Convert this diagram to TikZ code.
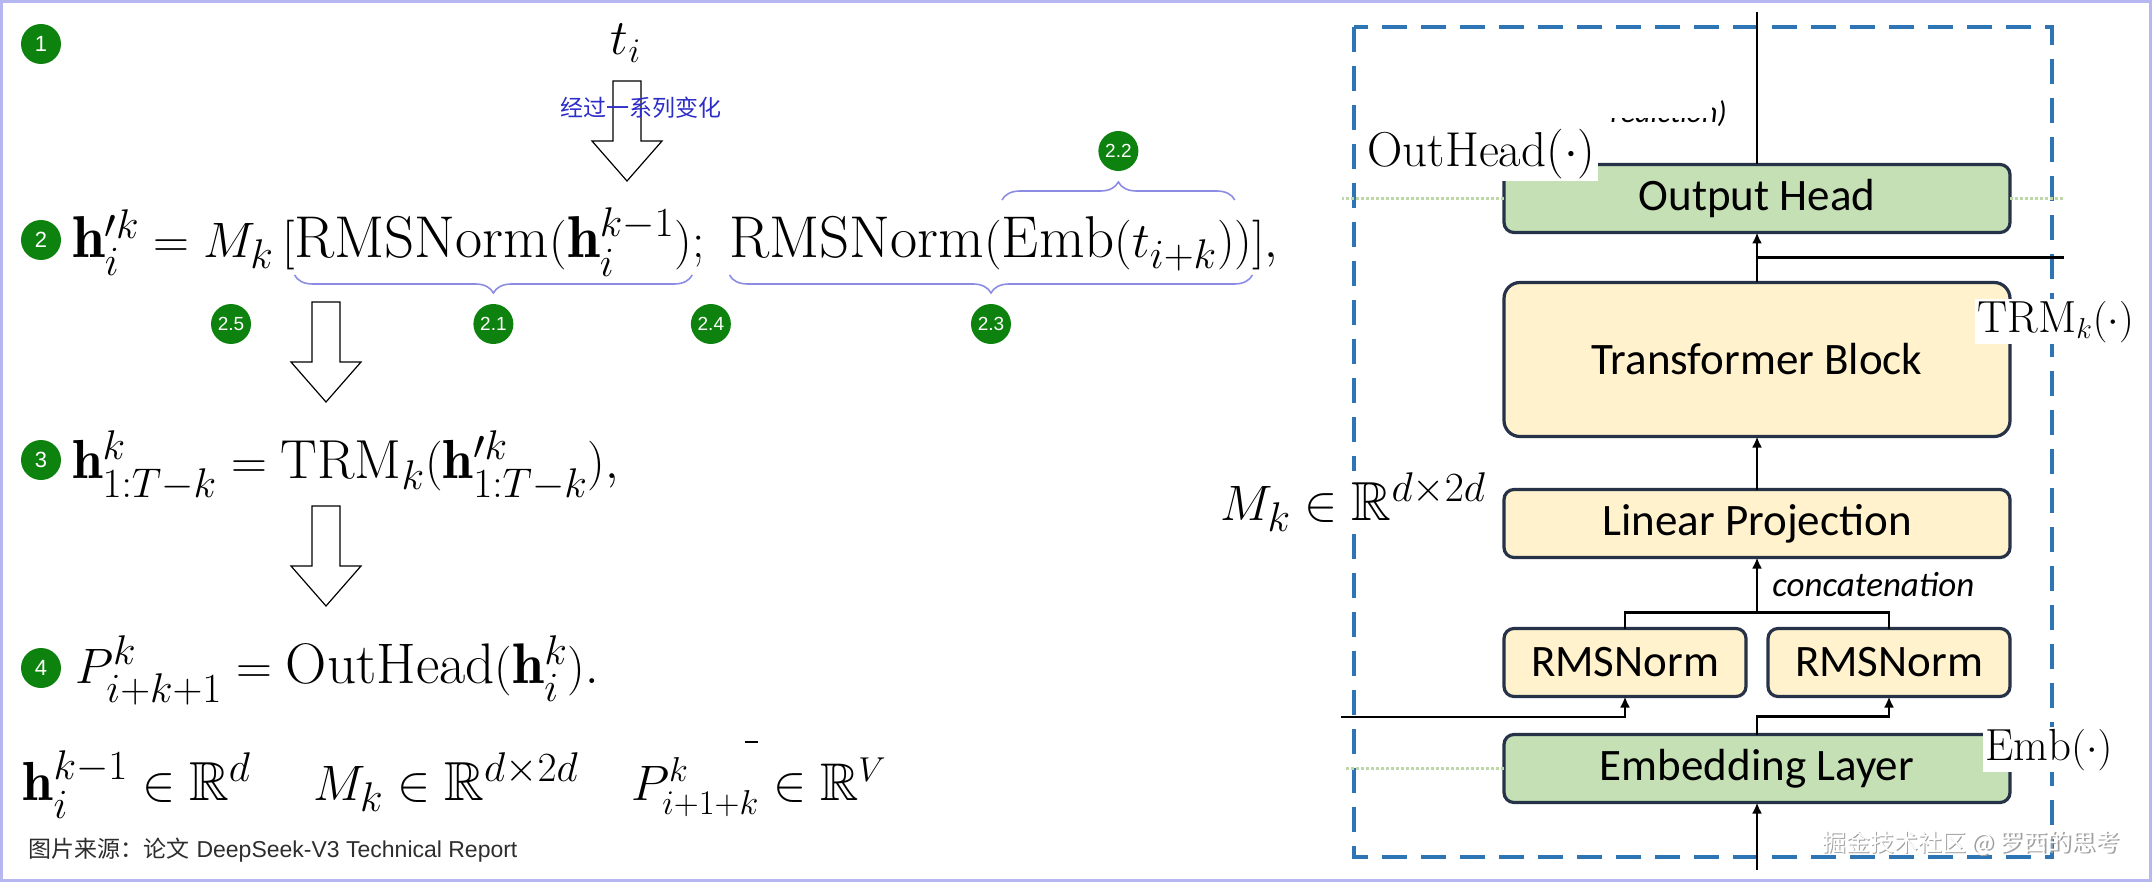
\documentclass[tikz,border=0pt]{standalone}
\usepackage{amsmath,amssymb}
\usepackage{fontspec}
\setsansfont{Liberation Sans}
\newfontfamily\cjk{Noto Sans CJK SC}
\newfontfamily\calibri{Carlito}
\usepackage{tikz}
\usetikzlibrary{arrows.meta,positioning,calc,decorations.pathreplacing}

\definecolor{framecol}{RGB}{182,182,240}
\definecolor{badgegreen}{RGB}{14,130,14}
\definecolor{bracecol}{RGB}{140,140,228}
\definecolor{noteblue}{RGB}{44,44,200}
\definecolor{dashblue}{RGB}{46,117,182}
\definecolor{boxgreen}{RGB}{197,224,180}
\definecolor{boxyellow}{RGB}{255,242,204}
\definecolor{boxedge}{RGB}{38,50,72}
\definecolor{dotgreen}{RGB}{190,215,168}
\definecolor{capgray}{RGB}{45,45,45}

\newcommand{\eqsize}{\fontsize{27.5}{33}\selectfont}
\newcommand{\eqbig}{\fontsize{29.5}{35}\selectfont}
\newcommand{\lblsize}{\fontsize{22.5}{27}\selectfont}
% hollow block arrow: centre x, top y
\newcommand{\hollowdown}[2]{\draw[hollow] (#1,#2) ++(-14,0) -- ++(28,0) -- ++(0,60) -- ++(21,0) -- ++(-35,40) -- ++(-35,-40) -- ++(21,0) -- cycle;}

\begin{document}
\begin{tikzpicture}[x=0.5pt,y=-0.5pt,
  eq/.style={inner sep=0pt,outer sep=0pt,font=\eqsize},
  eqtwo/.style={eq,font=\eqbig,anchor=base west},
  lbl/.style={fill=white,inner sep=1pt,font=\lblsize},
  badge/.style={circle,fill=badgegreen,text=white,minimum size=20pt,inner sep=0pt,font=\sffamily\fontsize{11}{11}\selectfont},
  subbadge/.style={badge,font=\sffamily\fontsize{9.5}{9.5}\selectfont},
  brc/.style={draw=bracecol,line width=0.8pt,decorate,decoration={brace,amplitude=9pt}},
  hollow/.style={draw=black,line width=0.6pt,fill=white},
  blk/.style={draw=boxedge,line width=1.6pt,rounded corners=5pt,outer sep=0pt,minimum width=253pt,minimum height=34pt,font=\calibri\fontsize{22.5}{27}\selectfont},
  gbox/.style={blk,fill=boxgreen},
  ybox/.style={blk,fill=boxyellow},
  half/.style={minimum width=121pt},
  wire/.style={line width=1.35pt},
  arr/.style={wire,-{Latex[length=5.5pt,width=5pt]}},
  guide/.style={draw=dotgreen,line width=1.5pt,dash pattern=on 1.5pt off 1pt},
  dashbox/.style={draw=dashblue,line width=2pt,dash pattern=on 12.5pt off 7pt}]
\useasboundingbox (0,0) rectangle (2152,882);
\draw[framecol,line width=1.5pt] (1.5,1.5) rectangle (2150.5,880.5);

% left: steps
\node[badge] (s1) at (41,44) {1};
\node[badge] (s2) at (41,240) {2};
\node[badge] (s3) at (41,460) {3};
\node[badge] (s4) at (41,668) {4};

\node[eq,font=\fontsize{27}{32}\selectfont,anchor=base] (ti) at (626,55) {$t_i$};
\hollowdown{627}{81}
\node[text=noteblue,font=\cjk\fontsize{11.5}{13}\selectfont] (note) at (641,108) {经过一系列变化};

\node[eqtwo] (e2a) at (72,257) {$\mathbf{h}_i^{\prime k} = M_k\,[$};
\node[eqtwo] (e2b) at (e2a.base east) {$\mathrm{RMSNorm}(\mathbf{h}_i^{k-1})$};
\node[eqtwo] (e2c) at (e2b.base east) {$;\mkern9mu$};
\node[eqtwo] (e2d) at (e2c.base east) {$\mathrm{RMSNorm}($};
\node[eqtwo] (e2e) at (e2d.base east) {$\mathrm{Emb}(t_{i+k})$};
\node[eqtwo] (e2f) at (e2e.base east) {$)$};
\node[eqtwo] (e2g) at (e2f.base east) {$],$};

\draw[brc] ([yshift=28.5pt]e2e.base west) -- ([yshift=28.5pt]e2e.base east);
\draw[brc] ([yshift=-9pt]e2b.base east) -- ([yshift=-9pt]e2b.base west);
\draw[brc] ([yshift=-9pt]e2f.base east) -- ([yshift=-9pt]e2d.base west);
\path (e2d.base west) -- (e2f.base east) coordinate[midway] (m23);
\node[subbadge] (b22) at ([yshift=53pt]e2e.base) {2.2};
\node[subbadge] (b25) at (231,324) {2.5};
\node[subbadge] (b21) at ([yshift=-33.5pt]e2b.base) {2.1};
\node[subbadge] (b24) at ([yshift=-33.5pt]e2c.base) {2.4};
\node[subbadge] (b23) at ([yshift=-33.5pt]m23) {2.3};

\hollowdown{326}{302}
\node[eq,anchor=base west] (e3) at (72,478) {$\mathbf{h}^k_{1:T-k} = \mathrm{TRM}_k(\mathbf{h}^{\prime k}_{1:T-k}),$};
\hollowdown{326}{506}
\node[eq,font=\fontsize{28.6}{34}\selectfont,anchor=base west] (e4) at (75,683) {$P^k_{i+k+1} = \mathrm{OutHead}(\mathbf{h}^k_i).$};

\node[eq,anchor=base west] (dimh) at (23,800) {$\mathbf{h}_i^{k-1} \in \mathbb{R}^d$};
\node[eq,anchor=base west] (dimm) at (313,800) {$M_k \in \mathbb{R}^{d\times 2d}$};
\node[eq,font=\fontsize{26.5}{32}\selectfont,anchor=base west] (dimp) at (631,800) {$P^k_{i+1+k} \in \mathbb{R}^V$};
\draw[line width=0.9pt] (745,742) -- (758,742);

\node[anchor=base west,text=capgray,font=\fontsize{11.5}{13}\selectfont] (src) at (21,857) {{\cjk 图片来源：论文} {\sffamily DeepSeek-V3 Technical Report}};

% right: MTP module
\draw[dashbox] (1354,27) rectangle (2052,857);
\node[gbox] (emb) at (1757,768.5) {Embedding Layer};
\node[ybox,above=88.5pt of emb] (lin) {Linear Projection};
\node[ybox,half,above=19pt of emb.north west,anchor=south west] (rmsl) {RMSNorm};
\node[ybox,half,above=19pt of emb.north east,anchor=south east] (rmsr) {RMSNorm};
\node[ybox,minimum height=77pt,rounded corners=8pt,above=26.5pt of lin] (trm) {Transformer Block};
\node[gbox,above=25pt of trm] (head) {Output Head};

\draw[guide] (head.west) -- ++(-162,0);
\draw[guide] (head.east) -- ++(54,0);
\draw[guide] (emb.west) -- ++(-160,0);

\coordinate (cat) at ($(lin.south)+(0,-27.5pt)$);
\draw[wire] (rmsl.north) |- (cat) -| (rmsr.north);
\draw[arr] (cat) -- (lin.south) node[midway,right=7pt,inner sep=0pt,font=\calibri\itshape\fontsize{17.5}{20}\selectfont] (catlbl) {concatenation};
\draw[arr] (lin.north) -- (trm.south);
\draw[arr] (trm.north) -- (head.south);
\coordinate (tap) at ($(trm.north)!0.5!(head.south)$);
\draw[wire] (tap) -- ++(153.5pt,0);
\coordinate (top) at (1757,12);
\draw[wire] (head.north) -- (top);
\coordinate (bot) at (1757,870);
\draw[arr] (bot) -- (emb.south);
\coordinate (hin) at (1341,717);
\draw[arr] (hin) -| (rmsl.south);
\draw[arr] (emb.north) -- ++(0,9pt) -| (rmsr.south);

\begin{scope}
\clip (1600,118) rectangle (1712,132) (1712,95) rectangle (1732,132);
\node[anchor=base east,inner sep=0pt,font=\calibri\itshape\fontsize{15}{18}\selectfont] (cut) at (1727,123) {Prediction)};
\end{scope}

\node[lbl,font=\fontsize{24.5}{29}\selectfont,anchor=base west] (ohl) at (1365,167) {$\mathrm{OutHead}(\cdot)$};
\node[lbl,anchor=base west] (trml) at (1975,332) {$\mathrm{TRM}_k(\cdot)$};
\node[lbl,anchor=base west] (embl) at (1983,760) {$\mathrm{Emb}(\cdot)$};
\node[lbl,font=\eqsize,anchor=base west] (mkl) at (1218,520) {$M_k \in \mathbb{R}^{d\times 2d}$};

\node[text=gray!75,font=\cjk\fontsize{12}{14}\selectfont] at (1972.5,844.5) {掘金技术社区 @ 罗西的思考};
\node[text=white,font=\cjk\fontsize{12}{14}\selectfont] (wmark) at (1971,843) {掘金技术社区 @ 罗西的思考};
\end{tikzpicture}
\end{document}
